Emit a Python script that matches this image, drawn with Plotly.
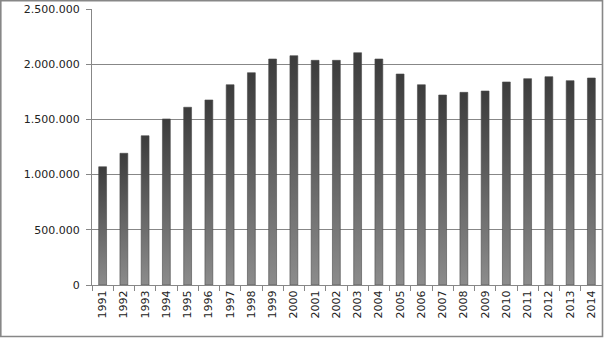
import plotly.graph_objects as go

years = [str(y) for y in range(1991, 2015)]
values = [1071000, 1193000, 1352000, 1504000, 1610000, 1676000, 1814000, 1923000,
          2047000, 2077000, 2035000, 2035000, 2104000, 2047000, 1911000, 1814000,
          1721000, 1745000, 1757000, 1839000, 1869000, 1887000, 1851000, 1875000]
y_ticks = [0, 500000, 1000000, 1500000, 2000000, 2500000]

HALF = 0.185
GRID = "#878787"
FONT = dict(family="DejaVu Sans", size=11, color="#222222")

fig = go.Figure()
for i, v in enumerate(values):
    fig.add_trace(go.Scatter(
        x=[i - HALF, i + HALF, i + HALF, i - HALF, i - HALF],
        y=[0, 0, v, v, 0],
        mode="lines",
        fill="toself",
        line=dict(width=0.6, color="#4a4a4a"),
        fillgradient=dict(type="vertical",
                          colorscale=[[0, "#8c8c8c"], [1, "#3c3c3c"]],
                          start=0, stop=v),
        hoverinfo="skip",
        showlegend=False,
    ))

L, R, T, B = 92, 2, 9, 53
W, H = 604, 338
pw, ph = W - L - R, H - T - B

def xp(px):
    return (px - L) / pw

def yp(py):
    return (H - B - py) / ph

fig.update_layout(
    width=W, height=H,
    margin=dict(l=L, r=R, t=T, b=B, pad=0, autoexpand=False),
    paper_bgcolor="white", plot_bgcolor="white",
    separators=",.",
    font=FONT,
    xaxis=dict(
        range=[-0.5, len(years) - 0.5],
        tickvals=list(range(len(years))),
        ticktext=years,
        tickangle=-90,
        ticks="", showgrid=False, zeroline=False,
        showline=True, linecolor=GRID, linewidth=1,
        minor=dict(tickvals=[i - 0.5 for i in range(len(years) + 1)],
                   ticks="outside", ticklen=5, tickcolor=GRID, showgrid=False),
        tickfont=FONT,
        automargin=False,
        fixedrange=True,
    ),
    yaxis=dict(
        range=[0, 2500000],
        tickvals=y_ticks,
        tickformat=",d",
        ticks="outside", ticklen=5, tickcolor=GRID,
        ticklabelstandoff=4,
        showgrid=True, gridcolor=GRID, gridwidth=1,
        zeroline=False,
        showline=True, linecolor=GRID, linewidth=1,
        tickfont=FONT,
        automargin=False,
        fixedrange=True,
    ),
    shapes=[dict(type="rect", xref="paper", yref="paper",
                 x0=xp(0.8), x1=xp(602.5), y0=yp(336.5), y1=yp(0.8),
                 line=dict(color=GRID, width=1.6), fillcolor="rgba(0,0,0,0)",
                 layer="above")],
)

fig.write_html("out.html",
               config={"displayModeBar": False, "staticPlot": True},
               post_script="document.body.style.margin='0';document.body.style.overflow='hidden';")
